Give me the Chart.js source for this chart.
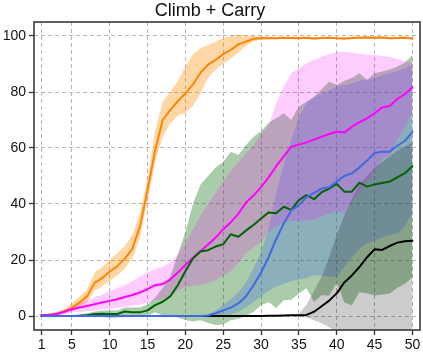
<!DOCTYPE html>
<html>
<head>
<meta charset="utf-8">
<script src="https://cdn.jsdelivr.net/npm/chart.js@4/dist/chart.umd.min.js"></script>
<style>
html,body{margin:0;padding:0;background:#fff;}
#wrap{width:423px;height:355px;}
</style>
</head>
<body>
<div id="wrap"><canvas id="c" width="423" height="355"></canvas></div>
<script>
const episodes = [1,2,3,4,5,6,7,8,9,10,11,12,13,14,15,16,17,18,19,20,21,22,23,24,25,26,27,28,29,30,31,32,33,34,35,36,37,38,39,40,41,42,43,44,45,46,47,48,49,50];
const xTickValues = [1,5,10,15,20,25,30,35,40,45,50];
const yTickValues = [0,20,40,60,80,100];

const orangeMean = [0.3,0.4,0.8,1.5,3,4.8,7,11.8,13.5,15.8, 17.8,20.5,24,32,45,59,70,73.5,76.7,79.5, 82.7,86.9,89.8,91.5,93.5,95,97,98,99,99.2, 99.3,99.2,99.4,99.3,99.2,99.4,99.1,99.3,99.4,99.2, 99.1,99.3,99.4,99.5,99.4,99.5,99.2,99.3,99.4,99.1];
const orangeHi = [0.6,0.8,1.5,2.5,4.5,7,9.5,15.5,17.5,20, 22.5,25,29,37,49,66,76.5,80,84,89, 93.5,95.6,96.8,98,99.2,100.2,100.3,100.2,100,99.8, 99.7,99.6,99.8,99.7,99.6,99.8,99.5,99.7,99.8,99.6, 99.5,99.7,99.8,99.9,99.8,99.9,99.6,99.7,99.8,99.5];
const orangeLo = [0.1,0.1,0.3,0.7,1.8,3,5,9,10.5,12.5, 14.5,17,20.5,28,41,55,64,68.8,71.5,72.5, 75,79.5,85,88,90,92,94,96.5,98,98.7, 98.9,98.8,99,98.9,98.8,99,98.7,98.9,99,98.8, 98.7,98.9,99,99.1,99,99.1,98.8,98.9,99,98.7];

const magentaMean = [0.4,0.4,0.7,1.5,2.4,3,3.6,4.2,4.8,5.4, 6,6.8,7.5,8.4,9.6,11,11.4,13,15.5,18.2, 20.8,23.2,25.5,28,31,33.5,36.5,40.5,43,46, 49.5,53.5,57,60.5,61.2,62,63,64,65,65.8, 65.5,67.6,69.2,70.6,72.4,74.5,75,77.5,79.2,81.7];
const magentaHi = [0.6,0.8,1.2,2.2,3.5,4.6,5.6,6.6,7.6,8.8, 10,11,12.5,14,15.5,17,17.5,19,22,26, 31,36,40,44,48,52,55,58,61,65, 68,76,82,86.7,88.5,90.2,91.5,92.5,93.5,94.3, 94.3,94,93.7,93.4,93.2,92.9,92.6,91.8,91,90.5];
const magentaLo = [0.2,0.1,0.3,0.8,1.3,1.5,1.8,2,2.3,2.6, 2.9,3.3,3.7,4.1,4.6,5.5,6,7.2,9,10.4, 10.8,11,11.8,12.8,14.5,16,19,22.5,24.5,26.5, 30,32,33,34,34,34,34.5,35.5,36.5,37.3, 36.7,41,44.7,47.8,51.6,56,57.4,63,67.4,73];

const greenMean = [0,0,0,0,0,0.1,0.3,0.7,0.8,0.7, 0.7,1.6,1.3,1.3,2,3.9,5.1,7,11,16, 20.5,23,23.5,24.8,25.6,29.2,28.3,30.5,32.5,34.8, 37,36.7,39,37.9,41.4,43.2,41.7,44.2,45.5,47.2, 44.4,44.4,47.6,46.2,47,47.5,48,49.5,51,53.5];
const greenHi = [0.2,0.2,0.2,0.3,0.4,0.6,1,1.5,2,2, 2,3,3,3,4,6.5,10,14,22,30, 40,47,50,53,55,58.7,57.5,61,64,66, 69,70.6,72.4,70,74.8,76.5,78.3,81,83.7,82.5, 84,85,86.7,84.3,86.7,87.3,88,89,90.5,93.2];
const greenLo = [-0.2,-0.2,-0.2,-0.3,-0.4,-0.4,-0.4,-0.1,-0.4,-0.6, -0.6,0.2,-0.4,-0.4,0,1.3,0.2,0,-0.5,-1.4, -2,-1.5,-2.5,-3.2,-3,-1.5,-1,0,1.5,3.8, 5,2.8,5.6,5.8,8,9.9,5.1,7.4,7.3,11.9, 4.8,3.8,8.5,8.1,7.3,7.7,8,10,11.5,13.8];

const blueMean = [0,0,0,0,0,0,0,0,0,0, 0,0,0,0,0,0,0,0,0,0, 0,0,0.2,1,2,3,4.5,7,11,15.5, 21,27.5,33,37.8,39.6,42.5,44,45.5,46,48, 50,51,53,55.5,58.2,58.7,58.7,60.8,62.5,65.8];
const blueHi = [0,0,0,0,0,0,0,0,0,0, 0,0,0,0,0,0,0,0,0,0, 0,0,0.5,2,4,6,8.5,12,17,23, 31,44,54,63,71,76,78,79.5,80.5,82, 82.5,83,84,84.5,85,86,86.7,87.5,88.5,89.6];
const blueLo = [0,0,0,0,0,0,0,0,0,0, 0,0,0,0,0,0,0,0,0,0, 0,0,0,0,0,0.5,1.5,3,5,7, 9,10.5,11.5,12.5,13,13.5,14.5,14.5,14,14, 17.5,21,24,26,27,28,29,29.5,32,37];

const blackMean = [0,0,0,0,0,0,0,0,0,0, 0,0,0,0,0,0,0,0,0,0, 0,0,0,0,0,0,0,0,0,0, 0.1,0.1,0.2,0.3,0.3,0.4,1.5,3.5,5.5,8.1, 12,14.5,17.5,21,23.8,23.6,25,26.2,26.7,26.9];
const blackHi = [0,0,0,0,0,0,0,0,0,0, 0,0,0,0,0,0,0,0,0,0, 0,0,0,0,0,0,0,0,0,0, 0.2,0.2,0.4,0.6,0.8,4,9,14,21,29, 36,42,47,50,53,55,57,59,60.5,62];
const blackLo = [0,0,0,0,0,0,0,0,0,0, 0,0,0,0,0,0,0,0,0,0, 0,0,0,0,0,0,0,0,0,0, 0,0,0,0,-0.2,-0.5,-1.5,-2.6,-4,-6, -12,-13,-12,-8,-6.5,-8,-7,-7,-7,-8];

function lineDs(data, color) {
  return {data: data, borderColor: color, backgroundColor: color, borderWidth: 2, pointRadius: 0, fill: false, tension: 0, borderJoinStyle: 'round', borderCapStyle: 'round'};
}
function bandHi(data, fillColor) {
  return {data: data, borderColor: 'rgba(0,0,0,0)', backgroundColor: fillColor, borderWidth: 0, pointRadius: 0, fill: '+1', tension: 0};
}
function bandLo(data) {
  return {data: data, borderColor: 'rgba(0,0,0,0)', backgroundColor: 'rgba(0,0,0,0)', borderWidth: 0, pointRadius: 0, fill: false, tension: 0};
}

const framePlugin = {
  id: 'frame',
  afterDraw(chart) {
    const a = chart.chartArea, ctx = chart.ctx;
    ctx.save();
    ctx.strokeStyle = '#3a3a3a';
    ctx.lineWidth = 1.6;
    ctx.strokeRect(a.left, a.top, a.right - a.left, a.bottom - a.top);
    ctx.restore();
  }
};

const tickFont = {family: 'Liberation Sans', size: 14};

new Chart(document.getElementById('c'), {
  type: 'line',
  data: {
    labels: episodes,
    datasets: [
      lineDs(blueMean, '#4169e1'),
      lineDs(blackMean, '#000000'),
      lineDs(greenMean, '#006400'),
      lineDs(magentaMean, '#ff00ff'),
      lineDs(orangeMean, '#ff8400'),
      bandHi(magentaHi, 'rgba(255,0,255,0.2)'), bandLo(magentaLo),
      bandHi(blackHi, 'rgba(0,0,0,0.2)'), bandLo(blackLo),
      bandHi(blueHi, 'rgba(65,105,225,0.3)'), bandLo(blueLo),
      bandHi(greenHi, 'rgba(0,100,0,0.33)'), bandLo(greenLo),
      bandHi(orangeHi, 'rgba(255,140,0,0.35)'), bandLo(orangeLo)
    ]
  },
  options: {
    responsive: false,
    devicePixelRatio: 1,
    animation: false,
    layout: {padding: {left: 0, right: 3, top: 0, bottom: 0}},
    plugins: {
      legend: {display: false},
      tooltip: {enabled: false},
      filler: {drawTime: 'beforeDatasetsDraw'},
      title: {display: true, text: 'Climb + Carry', color: '#111', font: {family: 'Liberation Sans', size: 18, weight: 'normal', lineHeight: 1.2}, padding: {top: 0, bottom: 0.4}}
    },
    scales: {
      x: {
        type: 'linear', min: 0, max: 51,
        afterBuildTicks(s) { s.ticks = xTickValues.map(v => ({value: v})); },
        afterFit(s) { s.height = 25; s.paddingLeft = 0; s.paddingRight = 0; },
        ticks: {color: '#111', font: tickFont, padding: 2, maxRotation: 0, autoSkip: false},
        grid: {color: '#b5b5b5', lineWidth: 1, drawTicks: true, tickLength: 5, tickColor: '#333', tickWidth: 1.3, tickBorderDash: []},
        border: {display: false, dash: [4, 3]}
      },
      y: {
        type: 'linear', min: -5, max: 105,
        afterBuildTicks(s) { s.ticks = yTickValues.map(v => ({value: v})); },
        afterFit(s) { s.width = 34; s.paddingTop = 0; s.paddingBottom = 0; },
        ticks: {color: '#111', font: tickFont, padding: 3, autoSkip: false},
        grid: {color: '#b5b5b5', lineWidth: 1, drawTicks: true, tickLength: 5, tickColor: '#333', tickWidth: 1.3, tickBorderDash: []},
        border: {display: false, dash: [4, 3]}
      }
    }
  },
  plugins: [framePlugin]
});
</script>
</body>
</html>
